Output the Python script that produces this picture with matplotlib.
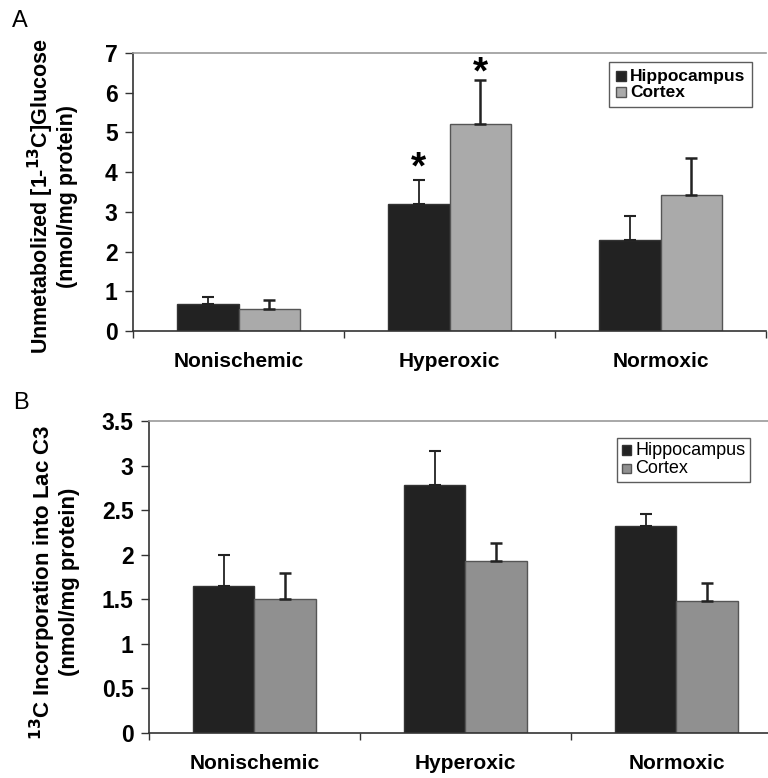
import numpy as np
import matplotlib
matplotlib.use('Agg')
import matplotlib.pyplot as plt

plt.rcParams['font.family'] = ['Liberation Sans', 'DejaVu Sans']

groups = ["Nonischemic", "Hyperoxic", "Normoxic"]

# Panel A: unmetabolized [1-13C]glucose
glc_hippo = [0.68, 3.20, 2.28]
glc_hippo_err = [0.18, 0.60, 0.62]
glc_cortex = [0.55, 5.21, 3.43]
glc_cortex_err = [0.23, 1.10, 0.93]

# Panel B: 13C incorporation into Lac C3
lac_hippo = [1.65, 2.78, 2.32]
lac_hippo_err = [0.35, 0.38, 0.14]
lac_cortex = [1.50, 1.93, 1.48]
lac_cortex_err = [0.30, 0.20, 0.20]

W = 0.29
fig = plt.figure(figsize=(7.68, 7.78), dpi=100)
axA = fig.add_axes([0.1732, 0.5746, 0.8242, 0.3573])
axB = fig.add_axes([0.1940, 0.0578, 0.8242, 0.4010])


def panel(ax, h, he, c, ce, ctop, ymax, step, fmt, ylabel, ylsize, ylx,
          legw, bpad):
    x = np.arange(len(groups)) + 0.5
    ax.bar(x - W / 2, h, W, color='#222222', edgecolor='#333333',
           linewidth=1, label='Hippocampus', zorder=2)
    ax.bar(x + W / 2, c, W, color=ctop, edgecolor='#555555',
           linewidth=1, label='Cortex', zorder=2)
    ax.errorbar(x - W / 2, h, yerr=[np.zeros(3), he], fmt='none',
                ecolor='#222222', elinewidth=1.3, capsize=4, capthick=1.5,
                zorder=3)
    ax.errorbar(x + W / 2, c, yerr=[np.zeros(3), ce], fmt='none',
                ecolor='#222222', elinewidth=1.8, capsize=4, capthick=1.8,
                zorder=3)
    ax.set_xlim(0, 3)
    ax.set_ylim(0, ymax)
    ticks = np.arange(0, ymax + 0.001, step)
    ax.set_yticks(ticks)
    ax.set_yticklabels([fmt(v) for v in ticks], fontsize=16.5,
                       fontweight='bold')
    ax.set_xticks([0, 1, 2, 3])
    ax.set_xticklabels([])
    ax.set_xticks(x, minor=True)
    ax.set_xticklabels(groups, minor=True, fontsize=15, fontweight='bold')
    ax.tick_params(axis='x', which='major', direction='out', length=5,
                   width=1, color='#333333')
    ax.tick_params(axis='x', which='minor', length=0, pad=15)
    ax.tick_params(axis='y', direction='out', length=6, width=1,
                   color='#333333', pad=5)
    for s in ['left', 'bottom']:
        ax.spines[s].set_color('#333333')
        ax.spines[s].set_linewidth(1.2)
    ax.spines['top'].set_color('#999999')
    ax.spines['top'].set_linewidth(1.2)
    ax.spines['right'].set_visible(False)
    ax.set_ylabel(ylabel, fontsize=ylsize, fontweight='bold', linespacing=1.05)
    ax.yaxis.set_label_coords(ylx, 0.484)
    leg = ax.legend(loc='upper right', bbox_to_anchor=legw,
                    frameon=True, fancybox=False, handlelength=0.7,
                    handleheight=0.7, handletextpad=0.3, borderpad=bpad,
                    labelspacing=0.1, borderaxespad=0)
    leg.get_frame().set_edgecolor('#333333')
    leg.get_frame().set_linewidth(1)
    return x


xa = panel(axA, glc_hippo, glc_hippo_err, glc_cortex, glc_cortex_err,
           '#aaaaaa', 7, 1, lambda v: f"{v:.0f}",
           "Unmetabolized [1-$^{\\mathbf{13}}$C]Glucose\n(nmol/mg protein)",
           15.5, -0.087, (0.978, 0.968), 0.5)
for t in axA.get_legend().get_texts():
    t.set_fontsize(12.5)
    t.set_fontweight('bold')

xb = panel(axB, lac_hippo, lac_hippo_err, lac_cortex, lac_cortex_err,
           '#909090', 3.5, 0.5, lambda v: f"{v:g}",
           "$^{\\mathbf{13}}$C Incorporation into Lac C3\n(nmol/mg protein)",
           16, -0.109, (0.949, 0.946), 0.3)
for t in axB.get_legend().get_texts():
    t.set_fontsize(13)

# significance markers
for i in [1]:
    axA.text(xa[i] - W / 2, glc_hippo[i] + glc_hippo_err[i] + 0.30, '*',
             ha='center', va='center', fontsize=28, fontweight='bold')
    axA.text(xa[i] + W / 2, glc_cortex[i] + glc_cortex_err[i] + 0.17, '*',
             ha='center', va='center', fontsize=28, fontweight='bold')

fig.text(0.015, 0.973, 'A', fontsize=17, ha='left', va='center')
fig.text(0.017, 0.482, 'B', fontsize=17, ha='left', va='center')

fig.savefig('out.png', dpi=100, facecolor='white')
